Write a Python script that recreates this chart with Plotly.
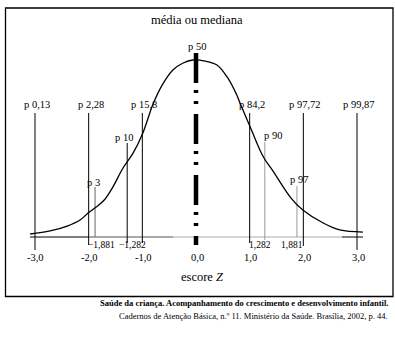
import plotly.graph_objects as go

# Bell curve of the z-score distribution (z, relative height)
curve_z = [-3.09, -2.72, -2.40, -2.16, -2.01, -1.86, -1.71, -1.55, -1.36, -1.17,
           -0.99, -0.80, -0.62, -0.43, -0.24, -0.06, 0.17, 0.39, 0.58, 0.76,
           0.82, 1.01, 1.19, 1.29, 1.42, 1.77, 1.99, 2.37, 2.68, 3.11]
curve_h = [0.017, 0.034, 0.062, 0.096, 0.136, 0.169, 0.209, 0.282, 0.390, 0.475,
           0.588, 0.751, 0.864, 0.944, 0.983, 1.000, 0.994, 0.972, 0.904, 0.802,
           0.757, 0.621, 0.492, 0.435, 0.379, 0.220, 0.153, 0.079, 0.040, 0.028]

# Percentile markers at whole z-scores
major_z = [-3.0, -2.0, -1.0, 1.0, 2.0, 3.0]
major_labels = ["p 0,13", "p 2,28", "p 15,8", "p 84,2", "p 97,72", "p 99,87"]

# Percentile markers at intermediate z-scores
minor_z = [-1.881, -1.282, 1.282, 1.881]
minor_labels = ["p 3", "p 10", "p 90", "p 97"]
minor_values = ["\u22121,881", "\u22121,282", "1,282", "1,881"]

# Axis ticks
tick_vals = [-3.0, -2.0, -1.0, 0.0, 1.0, 2.0, 3.0]
tick_text = ["-3,0", "-2,0", "-1,0", "0,0", "1,0", "2,0", "3,0"]

# ---- layout geometry (pixel frame of the 395x339 page) ----
W, H = 395, 339
X0, XS = 196.0, 53.67      # pixel of z=0, pixels per z unit
Y0, YS = 237.0, 177.0      # pixel of baseline, pixels per unit height


def zx(px):
    return (px - X0) / XS


def hy(py):
    return (Y0 - py) / YS


SERIF = "Liberation Serif, Times New Roman, serif"


def label(x, y, text, size, xshift=0, yshift=0):
    return dict(x=x, y=y, text=text, xref="x", yref="y", showarrow=False,
                xanchor="center", yanchor="middle", xshift=xshift, yshift=yshift,
                font=dict(family=SERIF, size=size, color="black"))


fig = go.Figure()

# vertical marker styles: (top pixel, bottom pixel, colour)
major_style = [(113, 250, "black"), (113, 245, "black"), (113, 243, "black"),
               (113, 243, "black"), (113, 246, "black"), (113, 250, "black")]
minor_style = [(187, 237, "#666666"), (143, 243, "black"),
               (142, 240, "#9a9a9a"), (186, 237, "#9a9a9a")]
minor_label_shift = [(-2, 5), (-3, 6), (8, 7), (2, 7)]
minor_value_px = [101, 132, 260, 292]

# baseline (drawn in segments of differing tone)
base_start, base_end = zx(30), zx(363)
segments = [(base_start, tick_vals[1], "black"),
            (tick_vals[1], zx(173), "#555555"),
            (zx(173), zx(342), "#aaaaaa"),
            (zx(342), base_end, "black")]
for a, b, c in segments:
    fig.add_trace(go.Scatter(x=[a, b], y=[0, 0], mode="lines",
                             line=dict(color=c, width=1), hoverinfo="skip"))

for z, (top, bot, col) in zip(major_z, major_style):
    fig.add_trace(go.Scatter(x=[z, z], y=[hy(bot), hy(top)], mode="lines",
                             line=dict(color=col, width=1), hoverinfo="skip"))
for z, (top, bot, col) in zip(minor_z, minor_style):
    fig.add_trace(go.Scatter(x=[z, z], y=[hy(bot), hy(top)], mode="lines",
                             line=dict(color=col, width=1), hoverinfo="skip"))

# the curve
fig.add_trace(go.Scatter(x=curve_z, y=curve_h, mode="lines",
                         line=dict(color="black", width=1.3, shape="spline", smoothing=1.0),
                         hoverinfo="skip"))

# median line (thick dash-dot-dot)
fig.add_trace(go.Scatter(x=[0.0, 0.0], y=[hy(53), hy(245)], mode="lines",
                         line=dict(color="black", width=4.5,
                                   dash="30px,7px,3px,8px,3px,10px"),
                         hoverinfo="skip"))

ann = []
for z, lab, (top, bot, col) in zip(major_z, major_labels, major_style):
    ann.append(label(z, hy(top), lab, 10.5, xshift=2, yshift=9))
for z, lab, (top, bot, col), (dx, dy) in zip(minor_z, minor_labels, minor_style,
                                             minor_label_shift):
    ann.append(label(z, hy(top), lab, 10.5, xshift=dx, yshift=dy))
for val, px in zip(minor_values, minor_value_px):
    ann.append(label(zx(px), hy(245), val, 9.5))
for v, t in zip(tick_vals, tick_text):
    ann.append(label(v, hy(257), t, 10.5, xshift=1))

ann.append(label(0.0, hy(53), "p 50", 10.5, xshift=1, yshift=7))
ann.append(label(zx(197), hy(20), "média ou mediana", 12.5))
ann.append(label(zx(202), hy(277), "escore <i>Z</i>", 12.5))

# source caption under the frame
ann.append(dict(xref="paper", yref="paper", x=390 / W, y=1 - 303 / H,
                text="<b>Saúde da criança. Acompanhamento do crescimento e desenvolvimento infantil.</b>",
                showarrow=False, xanchor="right", yanchor="middle",
                font=dict(family=SERIF, size=8.5, color="black")))
ann.append(dict(xref="paper", yref="paper", x=390 / W, y=1 - 316 / H,
                text="Cadernos de Atenção Básica, n.º 11. Ministério da Saúde. Brasília, 2002, p. 44.",
                showarrow=False, xanchor="right", yanchor="middle",
                font=dict(family=SERIF, size=8.5, color="black")))

# frame around the chart
shapes = [dict(type="rect", xref="paper", yref="paper",
               x0=5.5 / W, x1=393 / W, y0=1 - 296.5 / H, y1=1 - 8 / H,
               line=dict(color="black", width=1.3), fillcolor="rgba(0,0,0,0)")]

fig.update_layout(
    width=W, height=H,
    margin=dict(l=0, r=0, t=0, b=0, pad=0),
    paper_bgcolor="white", plot_bgcolor="white",
    font=dict(family=SERIF, color="black"),
    showlegend=False,
    xaxis=dict(range=[zx(0), zx(W)], visible=False, fixedrange=True),
    yaxis=dict(range=[hy(H), hy(0)], visible=False, fixedrange=True),
    annotations=ann, shapes=shapes,
)

fig.write_html("out.html")
